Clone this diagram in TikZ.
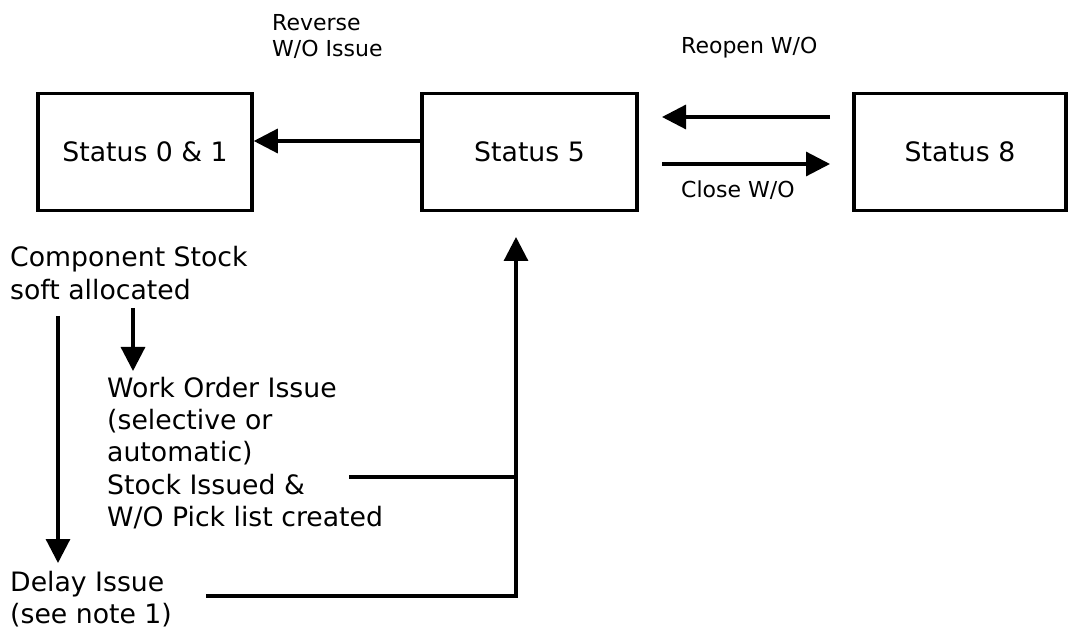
\documentclass[tikz,border=0pt]{standalone}
\usepackage{fontspec}
\setmainfont{DejaVu Sans}
\usetikzlibrary{arrows.meta}
\begin{document}
\begin{tikzpicture}[x=1pt,y=-1pt,
  box/.style={draw,line width=3.5pt,minimum height=117pt,inner sep=0pt,font=\fontsize{26.7}{32}\selectfont},
  big/.style={font=\fontsize{26.7}{32.2}\selectfont,align=left,inner sep=0pt,anchor=west},
  small/.style={font=\fontsize{22}{25.5}\selectfont,align=left,inner sep=0pt,anchor=west},
  conn/.style={line width=3.2pt},
  arr/.style={conn,-{Triangle[length=24pt,width=24pt]}}]
\useasboundingbox (0,0) rectangle (1069,628);
% boxes
\node[box,minimum width=214pt] (s01) at (145,152) {Status 0 \& 1};
\node[box,minimum width=215pt] (s5) at (529.5,152) {Status 5};
\node[box,minimum width=212pt] (s8) at (960,152) {Status 8};
% labels
\node[small] (rev) at (272,36.5) {Reverse\\W/O Issue};
\node[small] (reo) at (681,48) {Reopen W/O};
\node[small] (clo) at (681,190) {Close W/O};
\node[big] (comp) at (10,273) {Component Stock\\soft allocated};
\node[big] (woi) at (107,453) {Work Order Issue\\(selective or\\automatic)\\Stock Issued \&\\W/O Pick list created};
\node[big] (del) at (10,599) {Delay Issue\\(see note 1)};
% connector end points
\coordinate (reoA) at (830,117);
\coordinate (reoB) at (662,117);
\coordinate (cloA) at (662,164);
\coordinate (cloB) at (830,164);
\coordinate (upTop) at (516,237);
\coordinate (upBot) at (516,596);
\coordinate (woiR) at (349,477);
\coordinate (woiJ) at (516,477);
\coordinate (delR) at (206,596);
\coordinate (shA) at (133,308);
\coordinate (shB) at (133,371);
\coordinate (lgA) at (58,316);
\coordinate (lgB) at (58,563);
% connectors
\draw[arr] ([yshift=11pt]s5.west) -- ([yshift=11pt]s01.east);
\draw[arr] (reoA) -- (reoB);
\draw[arr] (cloA) -- (cloB);
\draw[arr] (delR) -- (upBot) -- (upTop);
\draw[conn] (woiR) -- (woiJ);
\draw[arr] (shA) -- (shB);
\draw[arr] (lgA) -- (lgB);
\end{tikzpicture}
\end{document}
